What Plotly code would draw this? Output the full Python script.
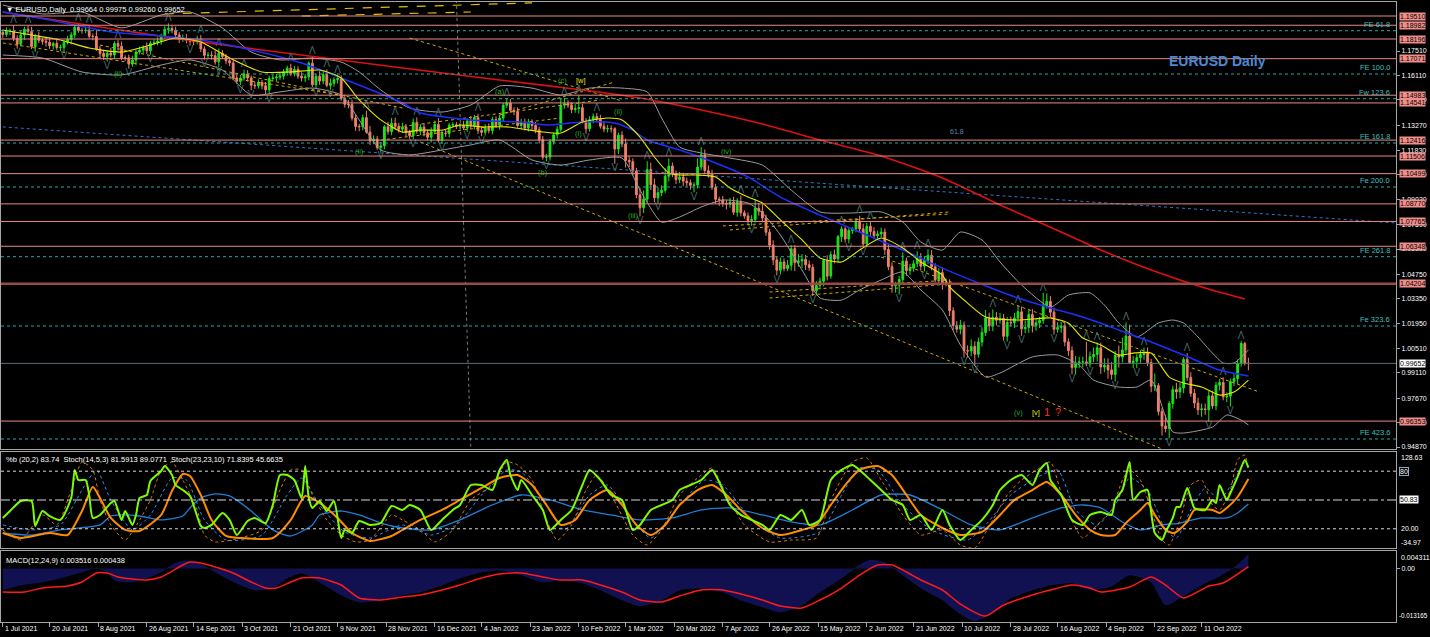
import numpy as np
import pandas as pd
import plotly.graph_objects as go

# ---------------- EURUSD daily closes (Jul 2021 .. 28 Oct 2022) ----------------
CLOSE = [
    # Jul 2021
    1.1846, 1.1864, 1.1866, 1.1823, 1.1790, 1.1843, 1.1875, 1.1862, 1.1776, 1.1836, 1.1812,
    1.1807, 1.1801, 1.1781, 1.1794, 1.1771, 1.1772, 1.1800, 1.1817, 1.1843, 1.1887, 1.1869,
    # Aug 2021
    1.1868, 1.1870, 1.1835, 1.1834, 1.1762, 1.1736, 1.1719, 1.1739, 1.1728, 1.1794, 1.1778,
    1.1712, 1.1712, 1.1676, 1.1699, 1.1745, 1.1756, 1.1772, 1.1752, 1.1795, 1.1799, 1.1807,
    # Sep 2021
    1.1838, 1.1875, 1.1880, 1.1870, 1.1843, 1.1818, 1.1823, 1.1813, 1.1807, 1.1804, 1.1818,
    1.1763, 1.1726, 1.1727, 1.1724, 1.1689, 1.1739, 1.1719, 1.1695, 1.1683, 1.1597, 1.1578,
    # Oct 2021
    1.1596, 1.1620, 1.1597, 1.1555, 1.1552, 1.1571, 1.1552, 1.1529, 1.1594, 1.1597, 1.1601,
    1.1608, 1.1632, 1.1653, 1.1623, 1.1645, 1.1607, 1.1597, 1.1603, 1.1681, 1.1558,
    # Nov 2021
    1.1607, 1.1579, 1.1616, 1.1555, 1.1567, 1.1587, 1.1594, 1.1479, 1.1446, 1.1445, 1.1368,
    1.1320, 1.1318, 1.1370, 1.1288, 1.1236, 1.1248, 1.1199, 1.1209, 1.1318, 1.1291, 1.1338,
    # Dec 2021
    1.1320, 1.1304, 1.1316, 1.1286, 1.1267, 1.1343, 1.1292, 1.1316, 1.1283, 1.1258, 1.1290,
    1.1331, 1.1239, 1.1280, 1.1279, 1.1327, 1.1329, 1.1319, 1.1327, 1.1311, 1.1351, 1.1323, 1.1370,
    # Jan 2022
    1.1297, 1.1286, 1.1312, 1.1296, 1.1359, 1.1326, 1.1368, 1.1441, 1.1454, 1.1412, 1.1404,
    1.1325, 1.1343, 1.1311, 1.1345, 1.1325, 1.1300, 1.1244, 1.1144, 1.1145, 1.1234,
    # Feb 2022
    1.1272, 1.1303, 1.1441, 1.1450, 1.1441, 1.1416, 1.1422, 1.1427, 1.1349, 1.1306,
    1.1358, 1.1376, 1.1361, 1.1321, 1.1305, 1.1308, 1.1307, 1.1191, 1.1270, 1.1220,
    # Mar 2022
    1.1125, 1.1118, 1.1065, 1.0929, 1.0855, 1.0904, 1.1073, 1.0986, 1.0912, 1.0941, 1.0955,
    1.1035, 1.1093, 1.1050, 1.1016, 1.1030, 1.1007, 1.0998, 1.0983, 1.0985, 1.1088, 1.1158, 1.1067,
    # Apr 2022
    1.1047, 1.0972, 1.0903, 1.0900, 1.0880, 1.0876, 1.0887, 1.0829, 1.0889, 1.0826, 1.0808,
    1.0782, 1.0787, 1.0852, 1.0835, 1.0796, 1.0715, 1.0641, 1.0557, 1.0498, 1.0545,
    # May 2022
    1.0507, 1.0526, 1.0621, 1.0542, 1.0551, 1.0560, 1.0529, 1.0514, 1.0380, 1.0410, 1.0435,
    1.0553, 1.0464, 1.0586, 1.0562, 1.0689, 1.0734, 1.0676, 1.0725, 1.0734, 1.0779, 1.0734,
    # Jun 2022
    1.0649, 1.0749, 1.0719, 1.0695, 1.0705, 1.0716, 1.0616, 1.0518, 1.0409, 1.0412, 1.0445,
    1.0550, 1.0496, 1.0509, 1.0535, 1.0566, 1.0521, 1.0554, 1.0583, 1.0517, 1.0443, 1.0484,
    # Jul 2022
    1.0426, 1.0425, 1.0266, 1.0182, 1.0161, 1.0184, 1.0038, 1.0036, 1.0062, 1.0018, 1.0087,
    1.0142, 1.0225, 1.0180, 1.0229, 1.0212, 1.0223, 1.0120, 1.0199, 1.0197, 1.0224,
    # Aug 2022
    1.0260, 1.0163, 1.0170, 1.0245, 1.0182, 1.0197, 1.0211, 1.0298, 1.0320, 1.0258, 1.0160,
    1.0170, 1.0178, 1.0088, 1.0038, 0.9942, 0.9967, 0.9973, 0.9974, 0.9962, 1.0003, 1.0016, 1.0054,
    # Sep 2022
    0.9945, 0.9954, 0.9928, 0.9902, 1.0012, 1.0001, 1.0042, 1.0121, 0.9969, 0.9978, 0.9998,
    1.0016, 1.0026, 0.9970, 0.9835, 0.9838, 0.9690, 0.9607, 0.9593, 0.9736, 0.9815, 0.9802,
    # Oct 2022
    0.9825, 0.9988, 0.9885, 0.9794, 0.9739, 0.9700, 0.9705, 0.9701, 0.9779, 0.9722,
    0.9840, 0.9856, 0.9774, 0.9778, 0.9861, 0.9878, 0.9966, 1.0079, 0.99664, 0.99652,
]

# upper / lower shadow length in pips beyond the candle body
UP_WICK = [
    17, 22, 12, 30, 18, 25, 15, 20, 28, 12, 25, 14, 18, 22, 10, 28, 15, 12, 20, 16, 11, 24,
    14, 20, 25, 16, 40, 18, 22, 15, 30, 12, 20, 28, 14, 18, 25, 16, 20, 12, 28, 14, 18, 22,
    12, 18, 29, 14, 20, 16, 22, 25, 14, 18, 20, 24, 15, 18, 22, 30, 26, 18, 14, 20, 16, 22,
    18, 25, 22, 14, 20, 18, 15, 22, 16, 20, 18, 22, 15, 14, 25, 20, 18, 22, 16, 10, 38,
    15, 28, 22, 30, 26, 14, 20, 18, 22, 25, 28, 20, 15, 18, 40, 35, 20, 18, 22, 10, 28, 30,
    32, 20, 25, 18, 14, 22, 28, 16, 22, 18, 24, 22, 36, 18, 20, 14, 15, 16, 12, 25, 15, 28, 16,
    22, 18, 20, 25, 16, 18, 20, 14, 28, 22, 18, 25, 20, 22, 18, 15, 20, 18, 20, 18, 14,
    14, 18, 40, 33, 20, 16, 25, 68, 22, 18, 20, 18, 20, 25, 30, 20, 18, 8, 15, 22,
    30, 25, 20, 18, 40, 50, 48, 40, 35, 30, 28, 45, 44, 20, 18, 30, 25, 20, 18, 15, 50, 43, 30,
    30, 25, 20, 15, 22, 18, 25, 30, 20, 35, 15, 20, 25, 50, 30, 40, 20, 18, 28, 20, 25,
    20, 30, 20, 20, 40, 30, 25, 25, 20, 25, 20, 10, 30, 20, 30, 10, 15, 15, 20, 10, 10, 30,
    30, 20, 30, 25, 20, 25, 20, 30, 25, 20, 20, 50, 20, 25, 20, 40, 30, 25, 35, 30, 20, 25,
    30, 25, 20, 20, 25, 30, 20, 30, 40, 30, 25, 30, 45, 30, 45, 30, 30, 25, 30, 35, 30,
    35, 30, 40, 30, 30, 25, 20, 70, 45, 30, 25, 30, 25, 20, 20, 25, 40, 30, 30, 115, 30, 40, 30,
    30, 40, 40, 45, 25, 55, 70, 77, 66, 30, 20, 25, 30, 30, 20, 69, 14, 20, 64, 13, 22, 39,
    30, 12, 35, 30, 25, 30, 30, 30, 28, 29, 20, 20, 30, 20, 17, 30, 20, 14, 10, 31.1,
]
DN_WICK = [
    20, 14, 22, 15, 26, 12, 28, 18, 14, 30, 16, 20, 25, 18, 22, 14, 20, 25, 12, 28, 18, 14,
    18, 15, 12, 22, 10, 25, 20, 28, 14, 20, 24, 12, 18, 26, 15, 30, 14, 20, 18, 22, 12, 16,
    20, 14, 25, 18, 24, 22, 15, 18, 26, 20, 15, 18, 24, 20, 22, 16, 30, 14, 20, 18, 12, 15,
    22, 15, 20, 28, 18, 16, 20, 24, 26, 14, 18, 15, 20, 22, 16, 18, 15, 20, 24, 20, 12,
    20, 22, 18, 12, 25, 20, 22, 12, 18, 22, 15, 25, 26, 20, 10, 22, 18, 13, 25, 20, 18, 22,
    16, 20, 22, 25, 18, 20, 14, 22, 20, 18, 30, 15, 12, 20, 18, 22, 15, 14, 16, 12, 22, 18, 20,
    20, 22, 18, 16, 22, 14, 25, 20, 15, 14, 20, 12, 22, 15, 20, 25, 20, 22, 14, 24, 20,
    18, 22, 15, 20, 15, 20, 18, 30, 12, 28, 16, 20, 18, 14, 18, 20, 22, 85, 30, 20,
    40, 30, 25, 20, 49, 30, 20, 30, 25, 30, 20, 15, 30, 20, 25, 20, 30, 20, 25, 40, 20, 20, 20,
    20, 15, 25, 35, 20, 30, 20, 15, 25, 20, 15, 20, 30, 18, 25, 25, 20, 25, 30, 30, 25,
    15, 15, 30, 49, 25, 40, 30, 20, 30, 26, 20, 30, 25, 15, 25, 20, 30, 20, 25, 20, 20, 20,
    20, 20, 25, 20, 25, 20, 30, 20, 40, 40, 53, 20, 30, 25, 20, 20, 25, 30, 20, 20, 15, 30,
    40, 20, 30, 25, 20, 30, 40, 38, 30, 66, 20, 25, 20, 30, 30, 30, 20, 25, 30, 20, 30,
    20, 40, 25, 30, 40, 30, 30, 20, 20, 30, 30, 20, 30, 25, 30, 40, 40, 30, 30, 13, 20, 30, 40,
    40, 30, 50, 30, 40, 60, 30, 20, 3, 30, 40, 30, 30, 20, 35, 28, 22, 54, 22, 57, 30, 40,
    35, 30, 20, 20, 30, 30, 40, 30, 69, 17, 25, 30, 20, 30, 60, 25, 30, 20, 14, 39.2,
]
FIRST_OPEN = 1.1857

# ---------------- indicator lines, (bar, value) ----------------
MA_RED = [(0, 1.1974), (27, 1.1888), (55, 1.1802), (83, 1.1728), (111, 1.1654), (138, 1.1585),
          (161, 1.1528), (177, 1.1482), (194, 1.1414), (211, 1.1334), (227, 1.1242), (244, 1.1151),
          (261, 1.1025), (277, 1.0871), (294, 1.0716), (305, 1.0613), (319, 1.0499), (333, 1.0402),
          (345, 1.0333)]
MA_BLUE = [(0, 1.1974), (13, 1.1928), (30, 1.1860), (44, 1.1837), (55, 1.1814), (69, 1.1757),
           (83, 1.1682), (94, 1.1597), (111, 1.1454), (116, 1.1397), (130, 1.1357), (144, 1.1345),
           (151, 1.1328), (161, 1.1345), (170, 1.1339), (175, 1.1299), (179, 1.1242), (188, 1.1185),
           (198, 1.1111), (207, 1.1031), (216, 1.0916), (227, 1.0813), (238, 1.0716), (250, 1.0613),
           (261, 1.0510), (271, 1.0425), (282, 1.0339), (291, 1.0282), (300, 1.0230), (310, 1.0156),
           (319, 1.0087), (328, 1.0013), (338, 0.9927), (346, 0.9893)]
MA_YELLOW = [(0, 1.1871), (8, 1.1842), (16, 1.1814), (24, 1.1768), (33, 1.1745), (41, 1.1785),
             (48, 1.1825), (55, 1.1802), (63, 1.1711), (72, 1.1631), (80, 1.1631), (88, 1.1642),
             (94, 1.1597), (99, 1.1471), (105, 1.1357), (111, 1.1288), (116, 1.1299), (122, 1.1299),
             (127, 1.1328), (133, 1.1317), (140, 1.1317), (150, 1.1288), (155, 1.1282), (161, 1.1345),
             (168, 1.1368), (172, 1.1357), (177, 1.1259), (181, 1.1145), (185, 1.1054), (188, 1.1042),
             (193, 1.1042), (198, 1.1031), (202, 1.0968), (207, 1.0916), (211, 1.0882), (216, 1.0785),
             (222, 1.0671), (227, 1.0568), (233, 1.0545), (238, 1.0613), (244, 1.0682), (250, 1.0625),
             (255, 1.0545), (261, 1.0470), (263, 1.0402), (268, 1.0310), (273, 1.0230), (282, 1.0213),
             (291, 1.0225), (296, 1.0196), (300, 1.0110), (305, 1.0070), (310, 1.0013), (314, 1.0024),
             (319, 1.0024), (324, 0.9887), (328, 0.9853), (333, 0.9830), (338, 0.9784), (342, 0.9801),
             (346, 0.9870)]
BB_UPPER = [(0, 1.2014), (11, 1.1963), (22, 1.1974), (33, 1.1883), (44, 1.1957), (52, 1.1974),
            (61, 1.1883), (69, 1.1745), (77, 1.1700), (86, 1.1711), (94, 1.1688), (99, 1.1631),
            (105, 1.1528), (113, 1.1425), (122, 1.1402), (130, 1.1442), (138, 1.1551), (147, 1.1539),
            (155, 1.1499), (163, 1.1539), (172, 1.1539), (179, 1.1517), (183, 1.1368), (188, 1.1202),
            (194, 1.1168), (202, 1.1139), (211, 1.1099), (219, 1.0956), (227, 1.0831), (236, 1.0825),
            (244, 1.0831), (250, 1.0773), (255, 1.0659), (261, 1.0613), (266, 1.0716), (272, 1.0671),
            (277, 1.0545), (283, 1.0413), (291, 1.0287), (296, 1.0356), (302, 1.0368), (306, 1.0299),
            (310, 1.0196), (315, 1.0116), (321, 1.0196), (325, 1.0213), (328, 1.0196), (332, 1.0116),
            (336, 1.0024), (339, 0.9967), (342, 0.9967), (346, 1.0042)]
BB_LOWER = [(0, 1.1728), (11, 1.1711), (22, 1.1631), (33, 1.1614), (44, 1.1671), (52, 1.1700),
            (61, 1.1642), (69, 1.1499), (77, 1.1517), (86, 1.1539), (94, 1.1499), (99, 1.1357),
            (105, 1.1185), (113, 1.1157), (122, 1.1185), (130, 1.1214), (138, 1.1242), (147, 1.1128),
            (155, 1.1099), (163, 1.1128), (172, 1.1139), (177, 1.0956), (183, 1.0773), (188, 1.0802),
            (194, 1.0859), (200, 1.0899), (207, 1.0882), (211, 1.0825), (216, 1.0699), (222, 1.0499),
            (227, 1.0339), (233, 1.0327), (238, 1.0385), (244, 1.0442), (250, 1.0488), (255, 1.0385),
            (261, 1.0270), (266, 1.0070), (273, 0.9887), (277, 0.9910), (286, 1.0002), (293, 1.0013),
            (299, 0.9956), (303, 0.9870), (310, 0.9830), (315, 0.9830), (319, 0.9870), (323, 0.9659),
            (325, 0.9573), (328, 0.9567), (336, 0.9601), (340, 0.9670), (344, 0.9641), (346, 0.9613)]

# %b / stochastic sub-window
PCT_B = [(0, 31.3), (2, 38.5), (5, 49.0), (8, 49.0), (9, 22.9), (11, 38.5), (13, 33.3), (16, 29.2),
         (19, 52.1), (20, 81.3), (21, 70.8), (23, 70.8), (24, 55.2), (25, 31.3), (27, 34.4), (30, 46.9),
         (31, 49.0), (33, 29.2), (34, 38.5), (36, 24.0), (37, 34.4), (38, 52.1), (40, 55.2), (41, 69.8),
         (44, 80.2), (45, 85.4), (47, 76.0), (48, 65.6), (50, 60.4), (52, 54.2), (55, 22.9), (56, 20.8),
         (58, 24.0), (61, 36.5), (63, 29.2), (65, 13.5), (68, 28.1), (70, 31.3), (73, 26.0), (75, 44.8),
         (77, 76.0), (79, 76.0), (81, 70.8), (83, 52.1), (84, 85.4), (85, 52.1), (86, 41.7), (88, 49.0),
         (90, 38.5), (92, 49.0), (94, 10.4), (95, 18.8), (97, 15.6), (99, 28.1), (102, 24.0), (105, 26.0),
         (108, 43.8), (111, 39.6), (113, 44.8), (116, 39.6), (119, 18.8), (122, 29.2), (125, 39.6),
         (127, 44.8), (130, 65.6), (133, 65.6), (136, 60.4), (138, 81.3), (140, 91.7), (141, 76.0),
         (143, 60.4), (144, 70.8), (147, 55.2), (150, 39.6), (152, 18.8), (155, 29.2), (158, 39.6),
         (161, 65.6), (163, 81.3), (166, 70.8), (169, 55.2), (172, 50.0), (175, 18.8), (177, 24.0),
         (180, 39.6), (183, 44.8), (186, 50.0), (188, 60.4), (191, 65.6), (194, 70.8), (197, 81.3),
         (200, 60.4), (202, 44.8), (205, 34.4), (208, 29.2), (211, 24.0), (213, 18.8), (216, 34.4),
         (219, 29.2), (222, 39.6), (224, 24.0), (227, 29.2), (230, 70.8), (233, 81.3), (236, 86.5),
         (238, 81.3), (241, 70.8), (244, 60.4), (247, 50.0), (250, 44.8), (252, 29.2), (255, 34.4),
         (258, 18.8), (261, 39.6), (263, 24.0), (266, 8.3), (269, 18.8), (272, 29.2), (275, 44.8),
         (277, 60.4), (280, 70.8), (283, 76.0), (286, 65.6), (288, 81.3), (290, 88.5), (291, 70.8),
         (294, 55.2), (297, 29.2), (300, 24.0), (302, 34.4), (305, 37.5), (308, 34.4), (309, 50.0),
         (311, 60.4), (313, 89.6), (314, 50.0), (316, 58.3), (318, 60.4), (319, 36.5), (320, 15.6),
         (322, 8.3), (323, 16.7), (325, 31.3), (326, 42.7), (327, 42.7), (329, 62.5), (330, 52.1),
         (331, 41.7), (334, 39.6), (336, 50.0), (337, 46.9), (338, 65.6), (340, 50.0), (341, 57.3),
         (343, 74.0), (345, 91.7), (346, 83.7)]
STOCH_SLOW_MAIN = [(0, 15.6), (5, 10.4), (13, 15.6), (18, 13.5), (22, 38.5), (25, 63.5), (27, 52.1),
                   (30, 31.3), (34, 18.8), (38, 17.7), (44, 34.4), (47, 59.4), (50, 77.1), (52, 75.0),
                   (55, 55.2), (58, 29.2), (62, 12.5), (66, 10.4), (75, 10.4), (80, 29.2), (84, 54.2),
                   (88, 46.9), (93, 31.3), (97, 15.6), (102, 7.3), (108, 12.5), (111, 18.8), (116, 29.2),
                   (122, 39.6), (127, 50.0), (133, 62.5), (138, 72.9), (143, 76.0), (147, 65.6),
                   (151, 44.8), (155, 24.0), (159, 29.2), (163, 50.0), (168, 60.4), (172, 44.8),
                   (176, 24.0), (180, 13.5), (184, 24.0), (188, 44.8), (193, 60.4), (197, 65.6),
                   (201, 55.2), (205, 39.6), (211, 20.8), (216, 13.5), (222, 18.8), (226, 24.0),
                   (230, 44.8), (234, 65.6), (238, 81.3), (243, 85.4), (247, 76.0), (251, 55.2),
                   (255, 34.4), (261, 20.8), (266, 13.5), (272, 16.7), (277, 34.4), (281, 50.0),
                   (286, 60.4), (290, 68.8), (294, 55.2), (298, 34.4), (302, 18.8), (305, 13.5),
                   (309, 13.5), (312, 26.0), (316, 39.6), (318, 46.9), (320, 34.4), (323, 18.8),
                   (325, 15.6), (326, 16.7), (329, 27.1), (331, 39.6), (336, 39.6), (338, 36.5),
                   (340, 41.7), (343, 53.1), (346, 71.8)]
STOCH_SLOW_SIGNAL = [(0, 15.6), (8, 13.5), (16, 18.8), (27, 24.0), (30, 33.3), (33, 34.4), (38, 33.3),
                     (44, 29.2), (50, 33.3), (52, 41.7), (55, 52.1), (59, 56.3), (63, 54.2), (69, 38.5),
                     (75, 18.8), (80, 12.5), (86, 24.0), (88, 34.4), (94, 38.5), (99, 34.4), (105, 26.0),
                     (111, 20.8), (119, 18.8), (127, 29.2), (136, 44.8), (144, 55.2), (152, 50.0),
                     (161, 39.6), (169, 34.4), (177, 29.2), (186, 31.3), (194, 39.6), (202, 41.7),
                     (211, 34.4), (219, 27.1), (227, 24.0), (236, 39.6), (244, 55.2), (252, 55.2),
                     (261, 39.6), (269, 24.0), (277, 18.8), (286, 31.3), (294, 41.7), (300, 44.8),
                     (305, 41.7), (311, 27.1), (316, 18.8), (322, 24.0), (327, 26.0), (333, 31.3),
                     (340, 31.3), (343, 36.5), (346, 45.7)]
STOCH_FAST_MAIN = [(0, 18.8), (5, 8.3), (11, 34.4), (15, 24.0), (19, 60.4), (22, 89.6), (25, 81.3),
                   (27, 50.0), (30, 24.0), (34, 8.3), (38, 29.2), (41, 50.0), (44, 81.3), (47, 89.6),
                   (50, 70.8), (54, 39.6), (56, 13.5), (59, 6.3), (66, 10.4), (72, 18.8), (77, 60.4),
                   (80, 81.3), (83, 81.3), (86, 55.2), (90, 29.2), (94, 13.5), (98, 6.3), (102, 8.3),
                   (108, 34.4), (111, 29.2), (116, 18.8), (120, 6.3), (125, 18.8), (130, 50.0),
                   (136, 65.6), (140, 89.6), (143, 86.5), (147, 70.8), (151, 29.2), (154, 8.3),
                   (158, 24.0), (162, 60.4), (165, 76.0), (169, 55.2), (175, 13.5), (179, 3.1),
                   (183, 18.8), (188, 55.2), (194, 76.0), (197, 83.3), (201, 55.2), (206, 24.0),
                   (213, 6.3), (219, 8.3), (226, 10.4), (230, 50.0), (236, 89.6), (240, 93.8),
                   (244, 70.8), (250, 34.4), (255, 13.5), (261, 18.8), (266, 3.1), (270, 0.0),
                   (275, 29.2), (279, 55.2), (283, 70.8), (288, 83.3), (291, 89.6), (295, 44.8),
                   (300, 10.4), (304, 24.0), (308, 39.6), (311, 70.8), (313, 81.3), (316, 70.8),
                   (319, 39.6), (322, 8.3), (324, 3.1), (327, 29.2), (330, 65.6), (333, 70.8),
                   (336, 44.8), (338, 39.6), (341, 60.4), (343, 91.7), (345, 96.9), (346, 81.6)]
STOCH_FAST_SIGNAL = [(0, 24.0), (8, 18.8), (16, 24.0), (22, 60.4), (26, 81.3), (30, 50.0), (36, 18.8),
                     (41, 34.4), (47, 72.9), (51, 70.8), (56, 29.2), (62, 8.3), (72, 13.5), (79, 55.2),
                     (83, 72.9), (88, 44.8), (95, 16.7), (102, 10.4), (111, 24.0), (119, 13.5),
                     (126, 24.0), (133, 55.2), (140, 81.3), (144, 79.2), (151, 44.8), (156, 18.8),
                     (163, 55.2), (168, 65.6), (175, 29.2), (180, 10.4), (188, 44.8), (195, 70.8),
                     (200, 65.6), (208, 29.2), (216, 10.4), (227, 16.7), (233, 55.2), (238, 83.3),
                     (243, 81.3), (250, 44.8), (258, 18.8), (268, 8.3), (273, 24.0), (280, 55.2),
                     (287, 72.9), (293, 81.3), (298, 39.6), (304, 24.0), (309, 44.8), (313, 72.9),
                     (318, 60.4), (323, 18.8), (326, 10.4), (330, 39.6), (334, 62.5), (338, 50.0),
                     (342, 70.8), (345, 89.1), (346, 89.1)]

# MACD sub-window
MACD_MAIN = [(0, -0.00529), (5, -0.00406), (11, -0.00332), (16, -0.00234), (22, -0.00086), (26, 0.00012),
             (29, -0.00086), (31, -0.00283), (36, -0.00332), (40, -0.00234), (44, -0.00086), (48, 0.00135),
             (51, 0.00185), (54, 0.00135), (58, -0.00037), (62, -0.00234), (66, -0.00406), (70, -0.00529),
             (75, -0.00480), (79, -0.00234), (83, -0.00111), (88, -0.00332), (94, -0.00652), (99, -0.00824),
             (105, -0.00775), (111, -0.00652), (116, -0.00578), (122, -0.00406), (127, -0.00234),
             (133, -0.00086), (138, -0.00037), (144, -0.00160), (150, -0.00332), (155, -0.00283),
             (161, -0.00357), (166, -0.00529), (172, -0.00775), (177, -0.00923), (183, -0.00775),
             (188, -0.00529), (194, -0.00480), (200, -0.00578), (205, -0.00775), (211, -0.00947),
             (216, -0.01071), (222, -0.00898), (227, -0.00578), (233, -0.00234), (238, 0.00086),
             (241, 0.00209), (245, 0.00135), (250, -0.00160), (255, -0.00480), (261, -0.00775),
             (266, -0.01120), (270, -0.01292), (275, -0.01071), (280, -0.00726), (286, -0.00529),
             (291, -0.00406), (297, -0.00357), (302, -0.00529), (308, -0.00431), (313, -0.00160),
             (319, -0.00332), (323, -0.00898), (327, -0.00726), (333, -0.00406), (338, -0.00185),
             (343, 0.00086), (346, 0.00352)]
MACD_SIGNAL = [(0, -0.00578), (6, -0.00578), (11, -0.00480), (18, -0.00431), (22, -0.00332), (26, -0.00111),
               (29, -0.00111), (32, -0.00209), (36, -0.00258), (40, -0.00283), (44, -0.00209), (50, 0.00086),
               (52, 0.00160), (55, 0.00135), (60, 0.00012), (64, -0.00111), (69, -0.00332), (73, -0.00480),
               (76, -0.00480), (80, -0.00332), (83, -0.00234), (88, -0.00234), (94, -0.00406), (99, -0.00726),
               (105, -0.00775), (111, -0.00701), (116, -0.00652), (122, -0.00529), (127, -0.00406),
               (133, -0.00234), (138, -0.00135), (144, -0.00111), (150, -0.00209), (155, -0.00283),
               (161, -0.00283), (166, -0.00406), (172, -0.00578), (177, -0.00775), (183, -0.00824),
               (188, -0.00677), (194, -0.00529), (200, -0.00529), (205, -0.00628), (211, -0.00775),
               (216, -0.00923), (222, -0.00972), (227, -0.00775), (233, -0.00480), (238, -0.00160),
               (243, 0.00086), (247, 0.00086), (251, -0.00086), (255, -0.00283), (261, -0.00529),
               (266, -0.00874), (273, -0.01169), (278, -0.00898), (286, -0.00652), (291, -0.00529),
               (297, -0.00406), (302, -0.00480), (305, -0.00578), (313, -0.00455), (319, -0.00209),
               (323, -0.00406), (328, -0.00726), (335, -0.00431), (339, -0.00357), (346, 0.00044)]

# ---------------- horizontal levels and drawings ----------------
SR_LEVELS = [1.19510, 1.18982, 1.18196, 1.17071, 1.14983, 1.14541, 1.12416, 1.11506,
             1.10499, 1.08770, 1.07765, 1.06348, 0.96353]
KEY_LEVEL = 1.04204
LAST_PRICE = 0.99652
FE_LEVELS = [1.18671, 1.16195, 1.14783, 1.12250, 1.09735, 1.05750, 1.01788, 0.95328]
FE_TEXT = ["FE 61.8", "FE 100.0", "Fw 123.6", "FE 161.8", "Fe 200.0", "FE 261.8", "Fe 323.6", "FE 423.6"]
Y_TICKS = [1.17510, 1.16110, 1.14710, 1.13270, 1.11830, 1.10430, 1.09030, 1.07590, 1.06190,
           1.04750, 1.03350, 1.01950, 1.00510, 0.99110, 0.97670, 0.96270, 0.94870]
# trend lines: (bar0, price0, bar1, price1)
CHANNEL_LINES = [(116, 1.1231, 322, 0.9476), (113, 1.1825, 172, 1.1465), (244, 1.0573, 349, 0.9802),
                 (0, 1.1797, 94, 1.1499), (27, 1.1785, 111, 1.1425), (105, 1.1242, 155, 1.1368),
                 (108, 1.1311, 166, 1.1471), (138, 1.1385, 170, 1.1574), (202, 1.0728, 263, 1.0831),
                 (200, 1.0751, 263, 1.0819), (213, 1.0339, 263, 1.0419), (213, 1.0373, 263, 1.0442)]
TOP_DASH_LINES = [(45, 1.1963, 147, 1.2026), (83, 1.1951, 130, 1.1974)]
FIB_LINE = [(0, 1.1317, 387, 1.0768)]
TIME_LINE = [(126, 1.2043, 130, 0.9476)]
WAVE_GREEN = [("(ii)", 32, 1.1625), ("(ii)", 99, 1.1174), ("(a)", 138, 1.1522), ("(c)", 155.5, 1.1580),
              ("(b)", 150, 1.1059), ("(i)", 160, 1.1282), ("(ii)", 171, 1.1408), ("(iii)", 175, 1.0813),
              ("(iv)", 201, 1.1179), ("(v)", 282, 0.9682)]
WAVE_YELLOW = [("[w]", 160.5, 1.1580), ("[v]", 287, 0.9682)]
WAVE_RED = [("1", 290, 0.9688), ("?", 293, 0.9688)]

X_TICK_DATES = ["2021-07-01", "2021-07-20", "2021-08-08", "2021-08-26", "2021-09-14", "2021-10-03",
                "2021-10-21", "2021-11-09", "2021-11-28", "2021-12-16", "2022-01-04", "2022-01-23",
                "2022-02-10", "2022-03-01", "2022-03-20", "2022-04-07", "2022-04-26", "2022-05-15",
                "2022-06-02", "2022-06-21", "2022-07-10", "2022-07-28", "2022-08-16", "2022-09-04",
                "2022-09-22", "2022-10-11"]
X_TICK_TEXT = ["1 Jul 2021", "20 Jul 2021", "8 Aug 2021", "26 Aug 2021", "14 Sep 2021", "3 Oct 2021",
               "21 Oct 2021", "9 Nov 2021", "28 Nov 2021", "16 Dec 2021", "4 Jan 2022", "23 Jan 2022",
               "10 Feb 2022", "1 Mar 2022", "20 Mar 2022", "7 Apr 2022", "26 Apr 2022", "15 May 2022",
               "2 Jun 2022", "21 Jun 2022", "10 Jul 2022", "28 Jul 2022", "16 Aug 2022", "4 Sep 2022",
               "22 Sep 2022", "11 Oct 2022"]

# ---------------- build ----------------
FONT = "Liberation Sans, Arial, DejaVu Sans, sans-serif"
AX = "#a6a6a6"
n = len(CLOSE)
bars = list(range(n))
dates = pd.bdate_range("2021-07-01", periods=n)
opens = [FIRST_OPEN] + CLOSE[:-1]
highs = [max(o, c) + u / 10000 for o, c, u in zip(opens, CLOSE, UP_WICK)]
lows = [min(o, c) - d / 10000 for o, c, d in zip(opens, CLOSE, DN_WICK)]

# Bill Williams fractals (the chevrons drawn above swing highs / below swing lows)
frac_up = [i for i in range(2, n - 2)
           if highs[i] > max(highs[i - 2:i]) and highs[i] >= max(highs[i + 1:i + 3])]
frac_dn = [i for i in range(2, n - 2)
           if lows[i] < min(lows[i - 2:i]) and lows[i] <= min(lows[i + 1:i + 3])]

tick_dt = pd.to_datetime(X_TICK_DATES)
tick_pos = [float(np.searchsorted(dates.values, d.to_datetime64())) - (0.5 if d.weekday() >= 5 else 0.0)
            for d in tick_dt]

XR = [-0.5, 387.0]
fig = go.Figure()


def add_line(pairs, color, width, yaxis="y", xaxis="x", dash="solid", smooth=True):
    fig.add_trace(go.Scatter(
        x=[p[0] for p in pairs], y=[p[1] for p in pairs], mode="lines",
        line=dict(color=color, width=width, dash=dash,
                  shape="spline" if smooth else "linear", smoothing=0.6),
        xaxis=xaxis, yaxis=yaxis, hoverinfo="skip", showlegend=False))


def add_segments(segs, color, width, dash):
    xs, ys = [], []
    for b0, p0, b1, p1 in segs:
        xs += [b0, b1, None]
        ys += [p0, p1, None]
    fig.add_trace(go.Scatter(x=xs, y=ys, mode="lines", line=dict(color=color, width=width, dash=dash),
                             xaxis="x", yaxis="y", hoverinfo="skip", showlegend=False))


# trend drawings behind candles
add_segments(TIME_LINE, "#7a7a7a", 1, "dot")
add_segments(FIB_LINE, "#3d6fc4", 1, "dot")
add_segments(CHANNEL_LINES, "#d2a800", 1, "dot")
add_segments(TOP_DASH_LINES, "#e0c000", 1.2, "dash")

# bands & averages
add_line(BB_UPPER, "#9c9c9c", 1)
add_line(BB_LOWER, "#9c9c9c", 1)
add_line(MA_RED, "#e01010", 1.6)

fig.add_trace(go.Candlestick(
    x=bars, open=opens, high=highs, low=lows, close=CLOSE,
    increasing=dict(line=dict(color="#19e619", width=1), fillcolor="#19e619"),
    decreasing=dict(line=dict(color="#f0806a", width=1), fillcolor="#f0806a"),
    whiskerwidth=0, xaxis="x", yaxis="y", hoverinfo="skip", showlegend=False))

# fractal chevrons
fig.add_trace(go.Scatter(
    x=frac_up, y=[highs[i] + 0.0028 for i in frac_up], mode="text", text=["\u039b"] * len(frac_up),
    textfont=dict(family=FONT, size=10, color="#456b6b"), xaxis="x", yaxis="y",
    hoverinfo="skip", showlegend=False))
fig.add_trace(go.Scatter(
    x=frac_dn, y=[lows[i] - 0.0028 for i in frac_dn], mode="text", text=["V"] * len(frac_dn),
    textfont=dict(family=FONT, size=10, color="#456b6b"), xaxis="x", yaxis="y",
    hoverinfo="skip", showlegend=False))

add_line(MA_BLUE, "#1a30ff", 1.5)
add_line(MA_YELLOW, "#e8e800", 1.1)

# stochastic window
add_line(STOCH_SLOW_SIGNAL, "#1f7fd8", 1.3, "y2", "x2")
add_line(STOCH_FAST_SIGNAL, "#2a8cff", 1, "y2", "x2", dash="dot")
add_line(STOCH_FAST_MAIN, "#e07800", 1, "y2", "x2", dash="dot")
add_line(STOCH_SLOW_MAIN, "#ff8c00", 2, "y2", "x2")
add_line(PCT_B, "#7cfc00", 2, "y2", "x2")

# MACD window
fig.add_trace(go.Scatter(
    x=[p[0] for p in MACD_MAIN], y=[p[1] for p in MACD_MAIN], mode="lines",
    line=dict(color="rgba(24,24,110,0.9)", width=0.5, shape="spline", smoothing=0.6),
    fill="tozeroy", fillcolor="rgba(20,20,96,0.85)", xaxis="x3", yaxis="y3",
    hoverinfo="skip", showlegend=False))
add_line(MACD_SIGNAL, "#ff1a1a", 1.5, "y3", "x3")

# ---------------- shapes ----------------
shapes = []
for lv in SR_LEVELS:
    shapes.append(dict(type="line", xref="x domain", yref="y", x0=0, x1=1, y0=lv, y1=lv,
                       line=dict(color="#e88a84", width=1), layer="above"))
shapes.append(dict(type="line", xref="x domain", yref="y", x0=0, x1=1, y0=KEY_LEVEL, y1=KEY_LEVEL,
                   line=dict(color="#9a4a44", width=2.5), layer="above"))
shapes.append(dict(type="line", xref="x domain", yref="y", x0=0, x1=1, y0=LAST_PRICE, y1=LAST_PRICE,
                   line=dict(color="#56707c", width=1), layer="above"))
for lv in FE_LEVELS:
    shapes.append(dict(type="line", xref="x domain", yref="y", x0=0, x1=1, y0=lv, y1=lv,
                       line=dict(color="#2aa7a7", width=1, dash="dot"), layer="above"))
for lv, ds in [(80, "dot"), (20, "dot"), (50, "dashdot")]:
    shapes.append(dict(type="line", xref="x2 domain", yref="y2", x0=0, x1=1, y0=lv, y1=lv,
                       line=dict(color="#d8d8d8", width=1, dash=ds), layer="above"))

# ---------------- annotations ----------------
ann = []
small = dict(family=FONT, size=7, color="white")


def label(**kw):
    base = dict(showarrow=False, xanchor="left", yanchor="middle")
    base.update(kw)
    ann.append(base)


for lv in SR_LEVELS + [KEY_LEVEL]:
    label(xref="paper", yref="y", x=1, y=lv, xshift=3, text=f"{lv:.5f}", bgcolor="#f08e8a", borderpad=0,
          font=dict(family=FONT, size=7, color="black"))
label(xref="paper", yref="y", x=1, y=LAST_PRICE, xshift=3, text=f"{LAST_PRICE:.5f}", bgcolor="white",
      borderpad=0, font=dict(family=FONT, size=7, color="black"))
for lv, tx in zip(FE_LEVELS, FE_TEXT):
    label(xref="paper", yref="y", x=0.997, y=lv, xanchor="right", yanchor="bottom", text=tx,
          font=dict(family=FONT, size=7.5, color="#3cc0c0"))
for tx, b, p in WAVE_GREEN:
    label(xref="x", yref="y", x=b, y=p, xanchor="center", text=tx, font=dict(family=FONT, size=7.5, color="#22b022"))
for tx, b, p in WAVE_YELLOW:
    label(xref="x", yref="y", x=b, y=p, xanchor="center", text=tx, font=dict(family=FONT, size=7.5, color="#e6e600"))
for tx, b, p in WAVE_RED:
    label(xref="x", yref="y", x=b, y=p, xanchor="center", text=tx, font=dict(family=FONT, size=11, color="#ff2a2a"))
label(xref="x", yref="y", x=265, y=1.1288, xanchor="center", text="61.8", font=dict(family=FONT, size=7, color="#5a8ab0"))
label(xref="paper", yref="paper", x=0.8724, y=0.9048, xanchor="center", text="<b>EURUSD Daily</b>",
      font=dict(family=FONT, size=14, color="#4a8ad4"))
label(xref="paper", yref="paper", x=0, y=1, yanchor="top", xshift=3, yshift=-1,
      text="\u25bc EURUSD,Daily  0.99664 0.99975 0.99260 0.99652", font=dict(family=FONT, size=7.5, color="white"))
label(xref="paper", yref="paper", x=0, y=0.2742, yanchor="top", xshift=3, yshift=-1,
      text="%b (20,2) 83.74  Stoch(14,5,3) 81.5913 89.0771  Stoch(23,23,10) 71.8395 45.6635",
      font=dict(family=FONT, size=7.5, color="white"))
label(xref="paper", yref="paper", x=0, y=0.1145, yanchor="top", xshift=3, yshift=-3,
      text="MACD(12,24,9) 0.003516 0.000438", font=dict(family=FONT, size=7.5, color="white"))
# sub-window scale labels
label(xref="paper", yref="paper", x=1, y=0.2742, yanchor="top", xshift=3, text="128.63", font=small)
label(xref="paper", yref="y2", x=1, y=80, xshift=3, text="80", bordercolor="#8fa8c8", borderwidth=1,
      borderpad=0, font=small)
label(xref="paper", yref="y2", x=1, y=50.83, xshift=3, text="50.83", bgcolor="white", borderpad=0,
      font=dict(family=FONT, size=7, color="black"))
label(xref="paper", yref="y2", x=1, y=20, xshift=3, text="20.00", font=small)
label(xref="paper", yref="paper", x=1, y=0.1194, yanchor="bottom", xshift=3, text="-34.97", font=small)
label(xref="paper", yref="paper", x=1, y=0.1145, yanchor="top", xshift=3, yshift=-1, text="0.004311", font=small)
label(xref="paper", yref="paper", x=1, y=0, yanchor="bottom", xshift=1, yshift=1, text="-0.013165",
      font=dict(family=FONT, size=6.3, color="white"))
for pos, tx in zip(tick_pos, X_TICK_TEXT):
    label(xref="x", yref="paper", x=pos, y=0, yanchor="top", yshift=-1, text=tx, font=small)

axis_common = dict(showgrid=False, zeroline=False, showline=True, mirror=True, linecolor=AX, linewidth=1)
fig.update_layout(
    width=1430, height=637, paper_bgcolor="black", plot_bgcolor="black",
    margin=dict(l=1, r=34, t=2, b=15), showlegend=False,
    font=dict(family=FONT, size=7, color="white"),
    xaxis=dict(domain=[0, 1], range=XR, anchor="y", showticklabels=False, ticks="",
               rangeslider=dict(visible=False), **axis_common),
    xaxis2=dict(domain=[0, 1], matches="x", anchor="y2", showticklabels=False, ticks="", **axis_common),
    xaxis3=dict(domain=[0, 1], matches="x", anchor="y3", showticklabels=False, tickvals=tick_pos,
                ticks="outside", ticklen=4, tickcolor=AX, **axis_common),
    yaxis=dict(domain=[0.2790, 1], range=[0.94756, 1.20311], side="right", anchor="x",
               tickvals=Y_TICKS, ticktext=[f"{v:.5f}" for v in Y_TICKS], ticks="outside", ticklen=3,
               tickcolor=AX, tickfont=small, **axis_common),
    yaxis2=dict(domain=[0.1194, 0.2742], range=[0, 100], side="right", anchor="x2",
                tickvals=[], ticks="", **axis_common),
    yaxis3=dict(domain=[0, 0.1145], range=[-0.013165, 0.004311], side="right", anchor="x3",
                tickvals=[0], ticktext=["0.00"], ticks="outside", ticklen=3, tickcolor=AX,
                tickfont=small, **axis_common),
    shapes=shapes, annotations=ann,
)

fig.write_html("out.html", config={"displayModeBar": False, "staticPlot": True})
# remove the browser's default page margin so the figure sits at the window's top-left corner
with open("out.html", encoding="utf-8") as fh:
    page = fh.read()
page = page.replace("<head>", "<head><style>html,body{margin:0;padding:0;background:#000;overflow:hidden;}</style>", 1)
with open("out.html", "w", encoding="utf-8") as fh:
    fh.write(page)
